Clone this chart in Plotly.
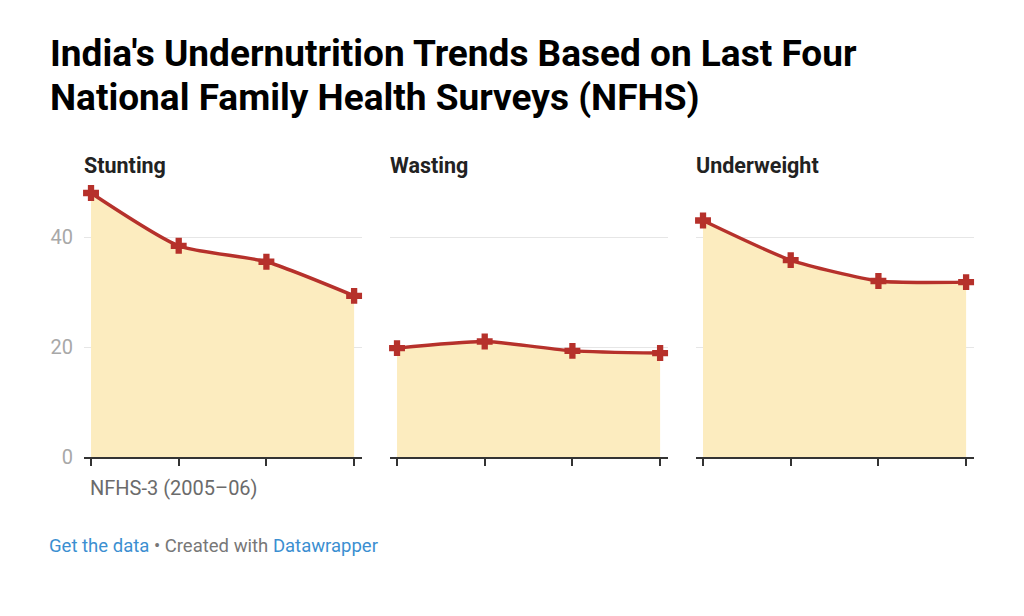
import plotly.graph_objects as go
from plotly.subplots import make_subplots

# survey rounds (only the first one is labelled in the chart)
surveys = ["NFHS-3 (2005–06)", "NFHS-4 (2015–16)", "NFHS-5 (2019–21)", "NFHS-6 (2023–24)"]
panels = ["Stunting", "Wasting", "Underweight"]

stunting = [48.0, 38.4, 35.5, 29.3]
wasting = [19.8, 21.0, 19.3, 18.9]
underweight = [43.0, 35.8, 32.0, 31.8]

y_ticks = [0, 20, 40]

title_lines = ["India's Undernutrition Trends Based on Last Four",
               "National Family Health Surveys (NFHS)"]

LINE = "#b6312b"
FILL = "#fcecbf"
FONT = "Roboto"

fig = make_subplots(rows=1, cols=3, shared_yaxes=True, horizontal_spacing=28 / 890)

for i, vals in enumerate([stunting, wasting, underweight]):
    fig.add_trace(go.Scatter(
        x=list(range(len(surveys))), y=vals,
        mode="lines+markers",
        line=dict(color=LINE, width=3.4, shape="spline", smoothing=0.6),
        marker=dict(symbol="cross", size=12, color=LINE, line=dict(color=LINE, width=1.5)),
        fill="tozeroy", fillcolor=FILL,
        customdata=surveys, hovertemplate="%{customdata}: %{y}<extra>" + panels[i] + "</extra>",
        cliponaxis=False, showlegend=False,
    ), row=1, col=i + 1)
    fig.update_xaxes(
        range=[-0.08, 3.09], tickvals=list(range(len(surveys))), ticktext=[""] * len(surveys),
        ticks="outside", ticklen=7, tickwidth=1.5, tickcolor="#333",
        showline=True, linecolor="#333", linewidth=2, showgrid=False, zeroline=False,
        row=1, col=i + 1)
    fig.update_yaxes(
        range=[0, 50], tickvals=y_ticks, showgrid=True, gridcolor="#e6e6e6", gridwidth=1,
        zeroline=False, showline=False, ticks="", row=1, col=i + 1)

fig.update_yaxes(showticklabels=True, tickfont=dict(size=20, color="#a8a8a8", family=FONT),
                 ticklabelstandoff=10, row=1, col=1)

# two-line headline
for shift, line in zip([129, 85], title_lines):
    fig.add_annotation(text=f"<b>{line}</b>", xref="paper", yref="paper", x=0, y=1, xshift=-36,
                       yshift=shift, xanchor="left", yanchor="middle", showarrow=False,
                       font=dict(size=37, color="#000", family=FONT))

# panel headings
for i, name in enumerate(panels):
    xref = "x domain" if i == 0 else f"x{i + 1} domain"
    fig.add_annotation(text=f"<b>{name}</b>", xref=xref, yref="paper", x=0, y=1.0, yshift=17,
                       xanchor="left", yanchor="middle", showarrow=False, xshift=-2,
                       font=dict(size=21.5, color="#222", family=FONT))

# first survey label under the first tick
fig.add_annotation(text=surveys[0], xref="x", yref="paper", x=0, y=0, yshift=-31,
                   xanchor="left", yanchor="middle", showarrow=False, xshift=-3,
                   font=dict(size=20, color="#6b6b6b", family=FONT))

fig.add_annotation(
    text="<span style='color:#3b8fd1'>Get the data</span> • Created with "
         "<span style='color:#3b8fd1'>Datawrapper</span>",
    xref="paper", yref="paper", x=0, y=0, yshift=-89,
    xanchor="left", yanchor="middle", showarrow=False, xshift=-37,
    font=dict(size=18.5, color="#777", family=FONT))

fig.update_layout(
    width=1016, height=608,
    margin=dict(l=76, r=50, t=174, b=159),
    plot_bgcolor="white", paper_bgcolor="white",
    font=dict(family=FONT),
)

fig.write_html("out.html")
